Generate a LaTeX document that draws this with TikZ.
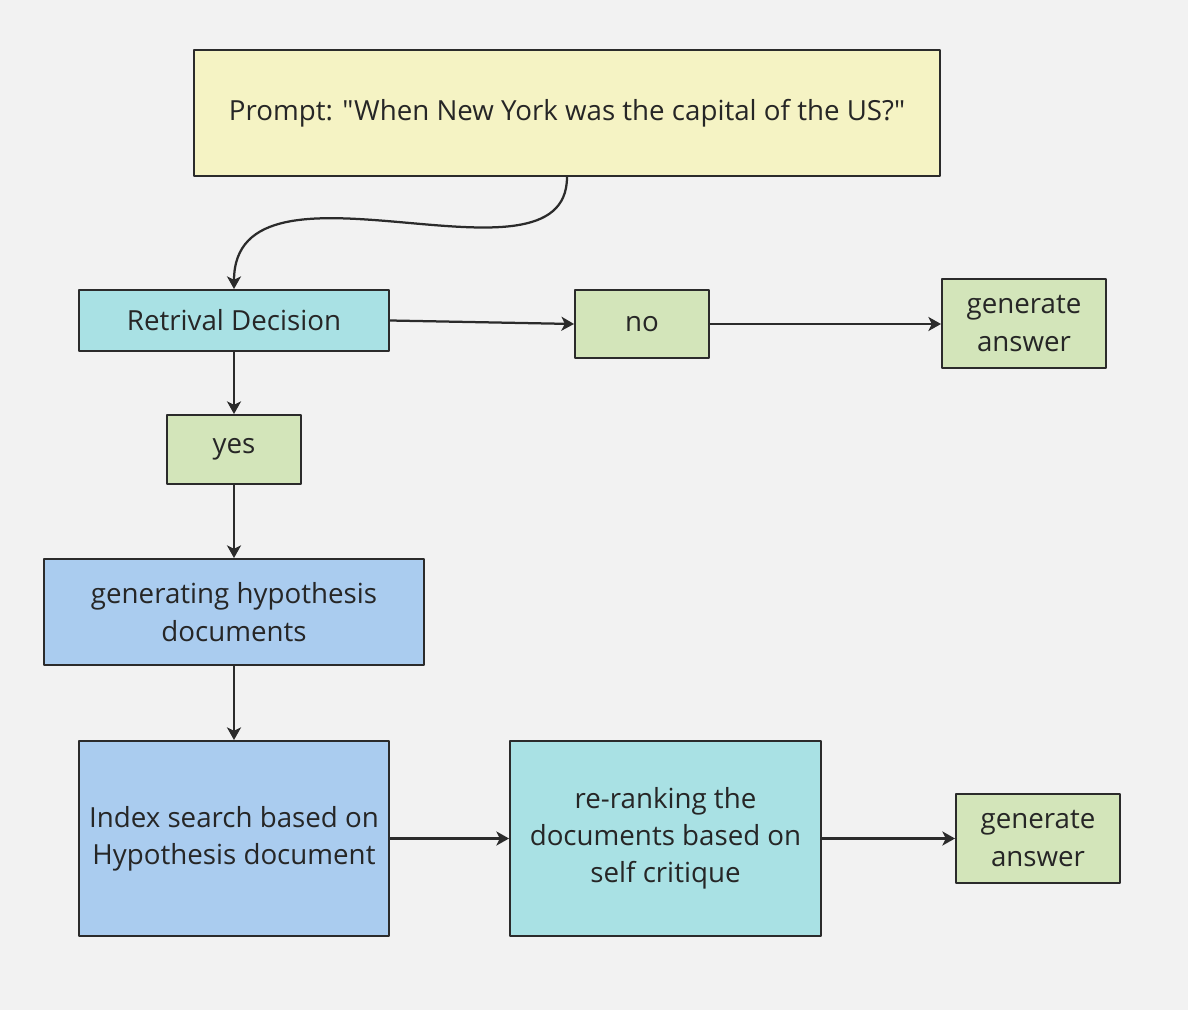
\documentclass[tikz,border=0pt]{standalone}
\usepackage{fontspec}
\setmainfont{Open Sans}[Ligatures=TeXOff]
\usetikzlibrary{arrows.meta}
\definecolor{bgcol}{HTML}{F2F2F2}
\definecolor{linecol}{HTML}{2B2B2B}
\definecolor{promptcol}{HTML}{F5F3C4}
\definecolor{tealcol}{HTML}{A9E1E4}
\definecolor{greencol}{HTML}{D3E5BA}
\definecolor{bluecol}{HTML}{AACCEF}
\begin{document}
\begin{tikzpicture}[x=0.025cm, y=-0.025cm, font=\fontsize{19.7}{26.5}\selectfont, line join=round, >={Stealth[length=9pt,width=10pt,inset=2.5pt]},
	box/.style={draw=linecol, line width=1.4pt, align=center, inner sep=0pt, text=black!85},
	arr/.style={->, draw=linecol, line width=1.6pt}]
	\fill[bgcol] (0,0) rectangle (1188,1010);
	\useasboundingbox (0,0) rectangle (1188,1010);
	% boxes
	\node[box, fill=promptcol, minimum width=746*0.025cm, minimum height=126*0.025cm] (prompt) at (567,113) {Prompt: "When New York was the capital of the US?"};
	\node[box, fill=tealcol, minimum width=310*0.025cm, minimum height=61*0.025cm] (decision) at (234,320.5) {Retrival Decision};
	\node[box, fill=greencol, minimum width=134*0.025cm, minimum height=68*0.025cm] (no) at (642,324) {no};
	\node[box, fill=greencol, minimum width=164*0.025cm, minimum height=89*0.025cm] (answerA) at (1024,323.5) {generate\\answer};
	\node[box, fill=greencol, minimum width=134*0.025cm, minimum height=69*0.025cm] (yes) at (234,449.5) {yes};
	\node[box, fill=bluecol, minimum width=380*0.025cm, minimum height=106*0.025cm] (hypo) at (234,612) {generating hypothesis\\documents};
	\node[box, fill=bluecol, minimum width=310*0.025cm, minimum height=195*0.025cm] (search) at (234,838.5) {Index search based on\\Hypothesis document};
	\node[box, fill=tealcol, minimum width=311*0.025cm, minimum height=195*0.025cm] (rerank) at (665.5,838.5) {re-ranking the\\documents based on\\self critique};
	\node[box, fill=greencol, minimum width=164*0.025cm, minimum height=89*0.025cm] (answerB) at (1038,838.5) {generate\\answer};
	% connectors
	\draw[arr] (prompt.south) .. controls +(0,124) and +(0,-150) .. (decision.north);
	\draw[arr] (decision.east) -- (no.west);
	\draw[arr] (no.east) -- (no.east -| answerA.west);
	\draw[arr] (decision) -- (yes);
	\draw[arr] (yes) -- (hypo);
	\draw[arr] (hypo) -- (search);
	\draw[arr] (search) -- (rerank);
	\draw[arr] (rerank) -- (answerB);
\end{tikzpicture}
\end{document}
